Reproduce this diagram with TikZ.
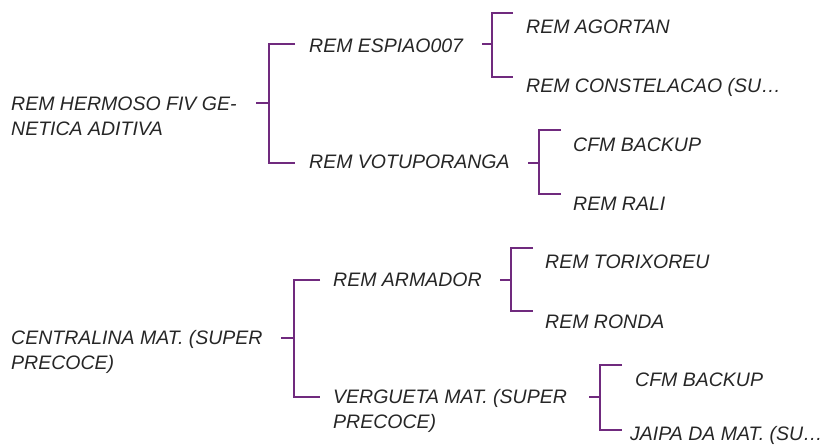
\documentclass[tikz,border=0pt]{standalone}
\usepackage{fontspec}
\setmainfont{Liberation Sans}
\definecolor{brk}{RGB}{112,42,126}
\definecolor{txt}{RGB}{38,38,38}
\newcommand\twolines[2]{\begin{tabular}[t]{@{}l@{}}#1\\#2\end{tabular}}
\begin{document}
\begin{tikzpicture}[x=1pt,y=-1pt,
  lbl/.style={anchor=base west,inner sep=0pt,text=txt,font=\fontsize{19.5}{25}\selectfont\itshape},
  br/.style={draw=brk,line width=2.8pt}]
\useasboundingbox (0,0) rectangle (827,445);
% nodes
\node[lbl] (r1) at (11,110) {\twolines{REM HERMOSO FIV GE-}{NETICA ADITIVA}};
\node[lbl] (a1) at (309,52) {REM ESPIAO007};
\node[lbl] (a2) at (309,168) {REM VOTUPORANGA};
\node[lbl] (b1) at (526,33) {REM AGORTAN};
\node[lbl] (b2) at (526,92) {REM CONSTELACAO (SU…};
\node[lbl] (b3) at (573,151) {CFM BACKUP};
\node[lbl] (b4) at (573,210) {REM RALI};
\node[lbl] (r2) at (11,344) {\twolines{CENTRALINA MAT. (SUPER}{PRECOCE)}};
\node[lbl] (c1) at (333,286) {REM ARMADOR};
\node[lbl] (c2) at (333,403) {\twolines{VERGUETA MAT. (SUPER}{PRECOCE)}};
\node[lbl] (d1) at (545,268) {REM TORIXOREU};
\node[lbl] (d2) at (545,328) {REM RONDA};
\node[lbl] (d3) at (635,386) {CFM BACKUP};
\node[lbl] (d4) at (630,440) {JAIPA DA MAT. (SU…};
% bracket coordinates
\coordinate (s1) at (256,103); \coordinate (e1a) at (295,44);  \coordinate (e1b) at (295,163);
\coordinate (s2) at (482,44);  \coordinate (e2a) at (513,13);  \coordinate (e2b) at (513,77);
\coordinate (s3) at (528,163); \coordinate (e3a) at (561,130); \coordinate (e3b) at (561,194);
\coordinate (s4) at (281,338); \coordinate (e4a) at (320,280); \coordinate (e4b) at (320,397);
\coordinate (s5) at (500,280); \coordinate (e5a) at (533,248); \coordinate (e5b) at (533,311);
\coordinate (s6) at (589,397); \coordinate (e6a) at (622,365); \coordinate (e6b) at (622,430);
% brackets
\draw[br] (s1) -- ++(13,0) coordinate (v1); \draw[br] (e1a) -| (v1) |- (e1b);
\draw[br] (s2) -- ++(10,0) coordinate (v2); \draw[br] (e2a) -| (v2) |- (e2b);
\draw[br] (s3) -- ++(11,0) coordinate (v3); \draw[br] (e3a) -| (v3) |- (e3b);
\draw[br] (s4) -- ++(13,0) coordinate (v4); \draw[br] (e4a) -| (v4) |- (e4b);
\draw[br] (s5) -- ++(11,0) coordinate (v5); \draw[br] (e5a) -| (v5) |- (e5b);
\draw[br] (s6) -- ++(11,0) coordinate (v6); \draw[br] (e6a) -| (v6) |- (e6b);
\end{tikzpicture}
\end{document}
